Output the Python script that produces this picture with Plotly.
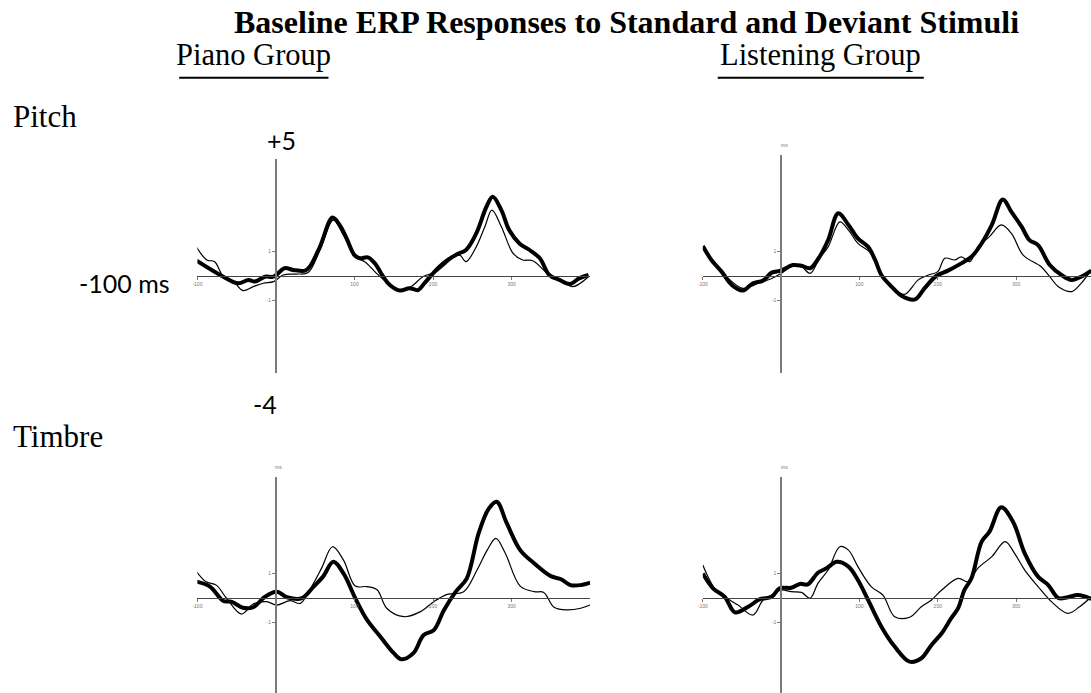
import plotly.graph_objects as go

W, H = 1091, 693

# ---- ERP waveforms (time in ms, amplitude in µV) ----
# Pitch / Piano group
pitch_piano_dev_ms = [-101, -67, -48, -35, -27, -14, -3, 11, 22, 37, 43, 56, 72, 81, 90, 100, 107, 117, 126,
                      136, 145, 158, 170, 181, 189, 200, 213, 230, 242, 255, 268, 276, 287, 297, 310, 323,
                      336, 348, 361, 374, 386, 398]
pitch_piano_dev_uv = [0.63, -0.03, -0.30, -0.16, -0.23, -0.03, -0.03, 0.32, 0.25, 0.22, 0.38, 1.20, 2.41, 2.10,
                      1.55, 0.86, 0.73, 0.77, 0.52, 0.00, -0.37, -0.60, -0.50, -0.58, -0.30, 0.11, 0.52, 0.89,
                      1.07, 1.75, 2.85, 3.26, 2.71, 1.89, 1.34, 1.07, 0.73, 0.04, -0.16, -0.33, -0.10, 0.04]
pitch_piano_std_ms = [-101, -88, -78, -67, -54, -42, -29, -16, -3, 9, 26, 41, 56, 73, 86, 100, 113, 128, 143,
                      158, 172, 187, 204, 225, 234, 242, 255, 266, 275, 287, 302, 314, 327, 348, 365, 378, 398]
pitch_piano_std_uv = [1.18, 0.66, 0.59, -0.03, -0.23, -0.60, -0.44, -0.30, -0.23, 0.04, 0.08, 0.14, 1.07, 2.30,
                      1.68, 0.79, 0.59, 0.11, -0.30, -0.58, -0.44, -0.03, 0.18, 0.73, 0.86, 0.59, 1.20, 2.03,
                      2.71, 2.03, 0.93, 0.66, 0.63, 0.04, -0.23, -0.44, -0.03]

# Pitch / Listening group
pitch_listen_dev_ms = [-100, -89, -76, -63, -49, -36, -23, -12, 0, 15, 26, 37, 49, 60, 73, 86, 98, 111, 120,
                       128, 141, 154, 171, 183, 198, 213, 230, 243, 256, 269, 283, 294, 307, 317, 328, 343,
                       358, 371, 383, 396]
pitch_listen_dev_uv = [1.23, 0.66, 0.18, -0.37, -0.60, -0.30, -0.19, 0.14, 0.22, 0.45, 0.42, 0.32, 0.79, 1.48,
                       2.58, 2.10, 1.55, 1.20, 0.66, 0.04, -0.44, -0.82, -0.96, -0.51, 0.00, 0.22, 0.52, 0.79,
                       1.34, 2.10, 3.15, 2.64, 2.03, 1.48, 1.27, 0.45, 0.04, -0.16, -0.03, 0.22]
pitch_listen_std_ms = [-100, -89, -72, -49, -29, -12, 0, 13, 26, 37, 49, 60, 75, 86, 98, 115, 128, 145, 158,
                       175, 188, 200, 209, 222, 230, 241, 251, 266, 281, 294, 309, 332, 343, 354, 371, 383, 396]
pitch_listen_std_uv = [1.14, 0.66, 0.04, -0.51, -0.30, -0.10, 0.11, 0.38, 0.38, 0.11, 0.73, 1.20, 2.23, 1.89,
                       1.34, 0.93, 0.04, -0.58, -0.75, -0.16, 0.04, 0.18, 0.73, 0.66, 0.79, 0.59, 1.20, 1.62,
                       2.10, 1.75, 0.86, 0.38, -0.03, -0.44, -0.64, -0.30, 0.25]

# Timbre / Piano group
timbre_piano_dev_ms = [-101, -84, -67, -57, -42, -29, -14, 1, 14, 33, 48, 60, 73, 86, 101, 116, 133, 150, 160,
                       175, 188, 201, 214, 229, 243, 258, 271, 281, 294, 311, 329, 350, 363, 375, 388, 400]
timbre_piano_dev_uv = [0.67, 0.47, -0.12, -0.15, -0.40, -0.38, 0.05, 0.26, 0.03, -0.01, 0.47, 0.88, 1.49, 1.01,
                       -0.01, -0.90, -1.59, -2.27, -2.52, -2.27, -1.52, -1.32, -0.49, 0.26, 0.81, 2.66, 3.68,
                       3.96, 3.07, 1.97, 1.42, 0.90, 0.77, 0.53, 0.53, 0.63]
timbre_piano_std_ms = [-101, -89, -76, -63, -44, -29, -12, 1, 18, 31, 43, 58, 72, 86, 101, 116, 129, 141, 163,
                       184, 201, 218, 239, 256, 269, 280, 292, 311, 329, 341, 354, 371, 388, 400]
timbre_piano_std_uv = [1.08, 0.67, 0.53, -0.01, -0.66, -0.25, -0.15, -0.29, -0.11, -0.22, 0.33, 1.22, 2.11,
                       1.56, 0.49, 0.47, 0.33, -0.42, -0.77, -0.56, -0.15, 0.15, 0.26, 1.15, 1.97, 2.45, 1.84,
                       0.49, 0.26, 0.23, -0.38, -0.49, -0.42, -0.29]

# Timbre / Listening group
timbre_listen_dev_ms = [-100, -87, -72, -59, -42, -27, -12, -2, 13, 24, 34, 47, 58, 71, 86, 98, 111, 128, 145,
                        164, 179, 192, 205, 217, 226, 234, 243, 256, 266, 281, 296, 311, 328, 341, 354, 366,
                        379, 396]
timbre_listen_dev_uv = [1.01, 0.40, 0.05, -0.59, -0.36, -0.05, 0.05, 0.40, 0.42, 0.58, 0.56, 1.04, 1.22, 1.49,
                        1.29, 0.74, -0.08, -1.18, -2.00, -2.62, -2.48, -1.93, -1.45, -0.84, -0.42, 0.33, 0.81,
                        2.32, 2.73, 3.73, 3.14, 1.84, 0.88, 0.53, 0.00, 0.03, 0.12, -0.04]
timbre_listen_std_ms = [-100, -85, -72, -55, -36, -23, -12, 0, 13, 26, 37, 47, 60, 75, 86, 98, 115, 130, 145,
                        164, 179, 192, 205, 226, 239, 251, 269, 286, 298, 311, 328, 345, 366, 381, 396]
timbre_listen_std_uv = [1.36, 0.40, 0.05, -0.29, -0.70, -0.08, 0.12, 0.33, 0.26, 0.23, -0.01, 0.60, 1.15, 2.11,
                        1.97, 1.29, 0.47, 0.12, -0.77, -0.79, -0.36, -0.08, 0.33, 0.81, 0.67, 1.22, 1.70, 2.32,
                        1.84, 1.15, 0.47, -0.15, -0.63, -0.36, 0.05]

x_ticks = [-100, 100, 200, 300]
y_ticks = [-1, 1]


def px(xp):
    return xp / W


def py(yp):
    return 1 - yp / H


# panel placement in page pixels: x of -100 ms, right end of time range, y of 0 µV, amplitude range
PX_MS = 0.789
PX_UV = 24.3
panels = [
    dict(x0=193.3, xr=400, y0=276, ytop=4.8, ybot=-4.0,
         dev=(pitch_piano_dev_ms, pitch_piano_dev_uv), std=(pitch_piano_std_ms, pitch_piano_std_uv)),
    dict(x0=701.0, xr=395.6, y0=276, ytop=5.0, ybot=-4.0,
         dev=(pitch_listen_dev_ms, pitch_listen_dev_uv), std=(pitch_listen_std_ms, pitch_listen_std_uv)),
    dict(x0=193.3, xr=400, y0=598, ytop=5.0, ybot=-3.9,
         dev=(timbre_piano_dev_ms, timbre_piano_dev_uv), std=(timbre_piano_std_ms, timbre_piano_std_uv)),
    dict(x0=701.0, xr=395.6, y0=598, ytop=5.0, ybot=-3.9,
         dev=(timbre_listen_dev_ms, timbre_listen_dev_uv), std=(timbre_listen_std_ms, timbre_listen_std_uv)),
]

fig = go.Figure()
layout = dict(
    width=W, height=H, margin=dict(l=0, r=0, t=0, b=0),
    paper_bgcolor="white", plot_bgcolor="rgba(0,0,0,0)", showlegend=False,
)

tick_font = dict(family="Liberation Sans", size=5, color="#777777")

for i, p in enumerate(panels, start=1):
    xs = "" if i == 1 else str(i)
    x_left = p["x0"]
    x_right = p["x0"] + (p["xr"] + 100) * PX_MS
    x_zero = p["x0"] + 100 * PX_MS
    y_top = p["y0"] - p["ytop"] * PX_UV
    y_bot = p["y0"] - p["ybot"] * PX_UV

    layout["xaxis" + xs] = dict(
        domain=[px(x_left), min(px(x_right), 1.0)], range=[-100, p["xr"]],
        anchor="free", position=py(p["y0"]),
        showline=True, linecolor="#444444", linewidth=1.4,
        showgrid=False, zeroline=False,
        tickmode="array", tickvals=x_ticks, ticktext=[str(v) for v in x_ticks],
        ticks="outside", ticklen=3, tickwidth=1, tickcolor="#777777",
        tickfont=tick_font, fixedrange=True,
    )
    layout["yaxis" + xs] = dict(
        domain=[max(py(y_bot), 0.0), py(y_top)], range=[p["ybot"], p["ytop"]],
        anchor="free", position=px(x_zero),
        showline=True, linecolor="#7a7a7a", linewidth=2,
        showgrid=False, zeroline=False,
        tickmode="array", tickvals=y_ticks, ticktext=[str(v) for v in y_ticks],
        ticks="outside", ticklen=3, tickwidth=1, tickcolor="#777777",
        tickfont=tick_font, fixedrange=True,
    )

    std_t, std_v = p["std"]
    dev_t, dev_v = p["dev"]
    fig.add_trace(go.Scatter(x=std_t, y=std_v, mode="lines", name="Standard",
                             line=dict(color="black", width=1.2, shape="spline", smoothing=1.0),
                             xaxis="x" + xs, yaxis="y" + xs))
    fig.add_trace(go.Scatter(x=dev_t, y=dev_v, mode="lines", name="Deviant",
                             line=dict(color="black", width=4, shape="spline", smoothing=1.0),
                             xaxis="x" + xs, yaxis="y" + xs))

    # small unit label above the amplitude axis
    if i != 1:
        fig.add_annotation(x=px(x_zero + 3), y=py(y_top - 10), xref="paper", yref="paper",
                           text="ms", showarrow=False, font=dict(family="Liberation Sans", size=5,
                                                                 color="#777777"),
                           xanchor="center", yanchor="middle")

serif = "Liberation Serif"
sans = "Lato"


def label(text, x, y, size, family, xanchor="center", bold=False):
    fig.add_annotation(x=px(x), y=py(y), xref="paper", yref="paper", showarrow=False,
                       text=f"<b>{text}</b>" if bold else text,
                       font=dict(family=family, size=size, color="black"),
                       xanchor=xanchor, yanchor="middle", borderpad=0)


label("Baseline ERP Responses to Standard and Deviant Stimuli", 624, 22, 32, serif, bold=True)
label("Piano Group", 250, 55, 30.5, serif)
label("Listening Group", 819, 55, 30.5, serif)
label("Pitch", 7, 116, 31, serif, xanchor="left")
label("Timbre", 7, 436, 31, serif, xanchor="left")
label("+5", 278, 140, 25, sans)
label("-100 ms", 167, 283, 25, sans, xanchor="right")
label("-4", 261, 404, 25, sans)

# underlines beneath the group headings
for (ux0, ux1) in [(175, 325), (716, 923)]:
    fig.add_shape(type="line", xref="paper", yref="paper", x0=px(ux0), x1=px(ux1),
                  y0=py(77.7), y1=py(77.7), line=dict(color="black", width=2))

fig.update_layout(**layout)
fig.write_html("out.html")
